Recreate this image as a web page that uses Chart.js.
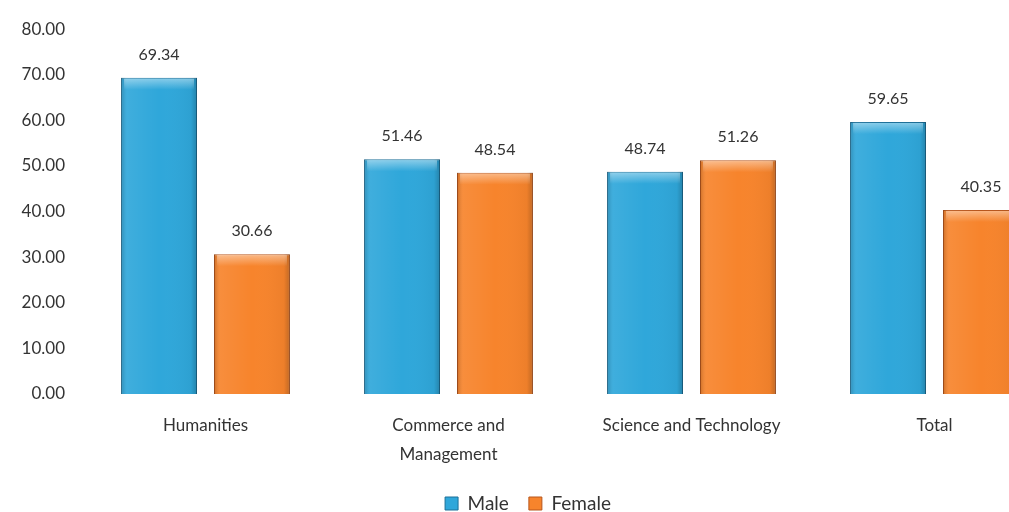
<!DOCTYPE html>
<html>
<head>
<meta charset="utf-8">
<script src="https://cdn.jsdelivr.net/npm/chart.js@4/dist/chart.umd.min.js"></script>
<style>
  html, body { margin: 0; padding: 0; background: #fff; overflow: hidden; }
  #wrap { width: 1009px; height: 512px; overflow: hidden; }
</style>
</head>
<body>
<div id="wrap"><canvas id="chart" width="1060" height="523"></canvas></div>
<script>
const categories = ["Humanities", ["Commerce and", "Management"], "Science and Technology", "Total"];
const maleValues = [69.34, 51.46, 48.74, 59.65];
const femaleValues = [30.66, 48.54, 51.26, 40.35];
const yTicks = [0, 10, 20, 30, 40, 50, 60, 70, 80];

const FONT = "Lato, 'Open Sans', sans-serif";

// draws the value above each bar
const valueLabels = {
    id: "valueLabels",
    afterDatasetsDraw(chart) {
        const { ctx } = chart;
        ctx.save();
        ctx.font = "16px " + FONT;
        ctx.fillStyle = "#333";
        ctx.textAlign = "center";
        ctx.textBaseline = "middle";
        chart.data.datasets.forEach((ds, i) => {
            chart.getDatasetMeta(i).data.forEach((bar, j) => {
                ctx.fillText(ds.data[j].toFixed(2), bar.x, bar.y - 23);
            });
        });
        ctx.restore();
    }
};

// soft bevel shading on top of the flat bars
const bevel = {
    id: "bevel",
    afterDatasetsDraw(chart) {
        const { ctx } = chart;
        ctx.save();
        chart.data.datasets.forEach((ds, i) => {
            chart.getDatasetMeta(i).data.forEach(bar => {
                const l = bar.x - bar.width / 2, r = bar.x + bar.width / 2;
                const t = bar.y, b = bar.base;
                const g = ctx.createLinearGradient(l, 0, r, 0);
                g.addColorStop(0, "rgba(0,0,0,0.18)");
                g.addColorStop(0.08, "rgba(255,255,255,0.08)");
                g.addColorStop(0.5, "rgba(255,255,255,0)");
                g.addColorStop(0.92, "rgba(0,0,0,0.04)");
                g.addColorStop(1, "rgba(0,0,0,0.22)");
                ctx.fillStyle = g;
                ctx.fillRect(l, t, r - l, b - t);
                const h = ctx.createLinearGradient(0, t, 0, t + 12);
                h.addColorStop(0, "rgba(255,255,255,0.45)");
                h.addColorStop(1, "rgba(255,255,255,0)");
                ctx.fillStyle = h;
                ctx.fillRect(l + 3, t + 1, r - l - 6, 12);
            });
        });
        ctx.restore();
    }
};

new Chart(document.getElementById("chart"), {
    type: "bar",
    data: {
        labels: categories,
        datasets: [
            {
                label: "Male",
                data: maleValues,
                backgroundColor: "#2fa7da",
                borderColor: "#1d7099",
                borderWidth: 1,
                categoryPercentage: 0.765,
                barPercentage: 0.817
            },
            {
                label: "Female",
                data: femaleValues,
                backgroundColor: "#f7842c",
                borderColor: "#b8561c",
                borderWidth: 1,
                categoryPercentage: 0.765,
                barPercentage: 0.817
            }
        ]
    },
    options: {
        responsive: false,
        animation: false,
        layout: { padding: { top: 20, right: 4, left: 0, bottom: 0 } },
        scales: {
            x: {
                grid: { display: false, drawTicks: false },
                border: { display: false },
                ticks: {
                    color: "#333",
                    padding: 17,
                    maxRotation: 0,
                    autoSkip: false,
                    font: { family: FONT, size: 17, lineHeight: 1.7 }
                },
                afterFit: s => { s.height = 80; }
            },
            y: {
                min: 0,
                max: 80,
                afterBuildTicks: s => { s.ticks = yTicks.map(v => ({ value: v })); },
                grid: { display: false, drawTicks: false },
                border: { display: false },
                ticks: {
                    color: "#333",
                    padding: 19,
                    font: { family: FONT, size: 17 },
                    callback: v => Number(v).toFixed(2)
                },
                afterFit: s => { s.width = 84; }
            }
        },
        plugins: {
            legend: {
                position: "bottom",
                labels: {
                    color: "#333",
                    boxWidth: 13,
                    boxHeight: 13,
                    padding: 20,
                    font: { family: FONT, size: 19 }
                }
            },
            tooltip: { enabled: false }
        }
    },
    plugins: [bevel, valueLabels]
});
</script>
</body>
</html>
